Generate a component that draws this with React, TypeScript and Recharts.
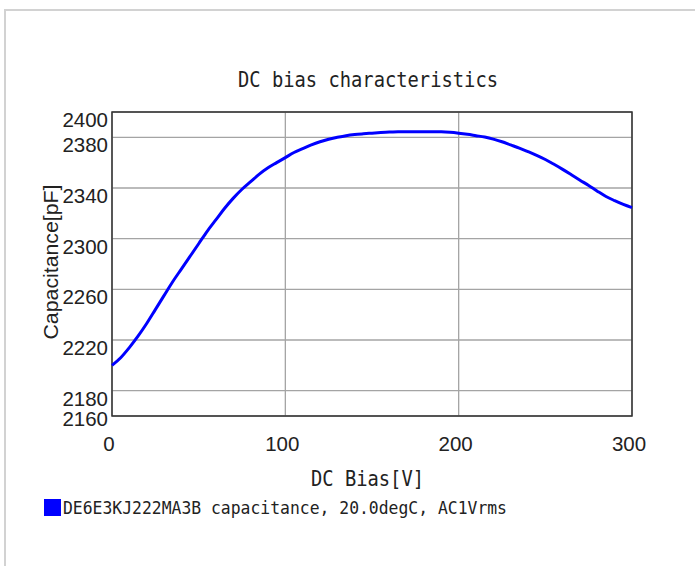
import { CartesianGrid, Line, LineChart, ReferenceArea, XAxis, YAxis } from "recharts";

// DC bias curve, 5 V steps
const biasV = [
  0, 5, 10, 15, 20, 25, 30, 35, 40, 45, 50, 55, 60, 65, 70, 75, 80, 85, 90, 95,
  100, 105, 110, 115, 120, 125, 130, 135, 140, 145, 150, 155, 160, 165, 170, 175,
  180, 185, 190, 195, 200, 205, 210, 215, 220, 225, 230, 235, 240, 245, 250, 255,
  260, 265, 270, 275, 280, 285, 290, 295, 300,
];
const capPF = [
  2200, 2206, 2214, 2223, 2233, 2244, 2255, 2266, 2276, 2286, 2296, 2306, 2315,
  2324, 2332, 2339, 2345, 2351, 2356, 2360, 2364, 2368, 2371, 2374, 2376.5,
  2378.5, 2380, 2381.3, 2382.2, 2382.8, 2383.3, 2383.8, 2384.2, 2384.4, 2384.5,
  2384.5, 2384.5, 2384.5, 2384.4, 2384, 2383.3, 2382.4, 2381.3, 2380.2, 2378.6,
  2376.5, 2374, 2371.5, 2368.7, 2365.8, 2362.5, 2358.7, 2354.7, 2350.5, 2346.2,
  2342, 2337.5, 2333.3, 2330, 2327, 2324.5,
];
const xTicks = [0, 100, 200, 300];
const yTicks = [2160, 2180, 2220, 2260, 2300, 2340, 2380, 2400];

const title = "DC bias characteristics";
const xLabel = "DC Bias[V]";
const yLabel = "Capacitance[pF]";
const seriesName = "DE6E3KJ222MA3B capacitance, 20.0degC, AC1Vrms";

const data = biasV.map((v, i) => ({ v, c: capPF[i] }));

const tickFont = "'Liberation Sans', Arial, sans-serif";
const monoFont = "'DejaVu Sans Mono', monospace";

function YTick({ x, y, payload }: any) {
  const off = payload.value === 2160 ? 10 : 15;
  return (
    <text x={x} y={y + off} textAnchor="end" fontFamily={tickFont} fontSize={20.5} fill="#222">
      {payload.value}
    </text>
  );
}

function XTick({ x, y, payload }: any) {
  return (
    <text x={x - 3} y={y + 35} textAnchor="middle" fontFamily={tickFont} fontSize={20.5} fill="#222">
      {payload.value}
    </text>
  );
}

export default function App() {
  return (
    <div style={{ position: "absolute", left: 0, top: 0, width: 695, height: 566, overflow: "hidden", background: "#fff" }}>
      <LineChart
        width={695}
        height={566}
        data={data}
        margin={{ top: 112, right: 63, bottom: 120, left: 0 }}
      >
        <CartesianGrid stroke="#a4a4a4" strokeWidth={1.3} />
        <XAxis
          dataKey="v"
          type="number"
          domain={[0, 300]}
          ticks={xTicks}
          height={30}
          axisLine={false}
          tickLine={false}
          tickSize={0}
          tickMargin={0}
          tick={<XTick />}
          interval={0}
        />
        <YAxis
          type="number"
          domain={[2160, 2400]}
          ticks={yTicks}
          width={112}
          axisLine={false}
          tickLine={false}
          tickSize={0}
          tickMargin={4}
          tick={<YTick />}
          interval={0}
        />
        <Line
          dataKey="c"
          type="monotone"
          stroke="#0000ff"
          strokeWidth={3}
          dot={false}
          isAnimationActive={false}
        />
        <ReferenceArea x1={0} x2={300} y1={2160} y2={2400} fill="none" fillOpacity={0} stroke="#333" strokeWidth={1.5} />
      </LineChart>
      <svg width={695} height={566} style={{ position: "absolute", left: 0, top: 0, pointerEvents: "none" }}>
        <rect x={5} y={10} width={800} height={700} fill="none" stroke="#d2d2d2" strokeWidth={2} />
        <text x={368} y={87} textAnchor="middle" fontFamily={monoFont} fontSize={20.5} fill="#222" textLength={260} lengthAdjust="spacingAndGlyphs">
          {title}
        </text>
        <text x={367.5} y={486} textAnchor="middle" fontFamily={monoFont} fontSize={20.5} fill="#222" textLength={113} lengthAdjust="spacingAndGlyphs">
          {xLabel}
        </text>
        <text
          transform="translate(58 262) rotate(-90)"
          textAnchor="middle"
          fontFamily={tickFont}
          fontSize={20}
          fill="#222"
          textLength={155}
          lengthAdjust="spacingAndGlyphs"
        >
          {yLabel}
        </text>
        <rect x={44} y={499} width={17} height={17} fill="#0000ff" />
        <text x={63} y={514} fontFamily={monoFont} fontSize={18.5} fill="#222" textLength={444} lengthAdjust="spacingAndGlyphs">
          {seriesName}
        </text>
      </svg>
    </div>
  );
}
